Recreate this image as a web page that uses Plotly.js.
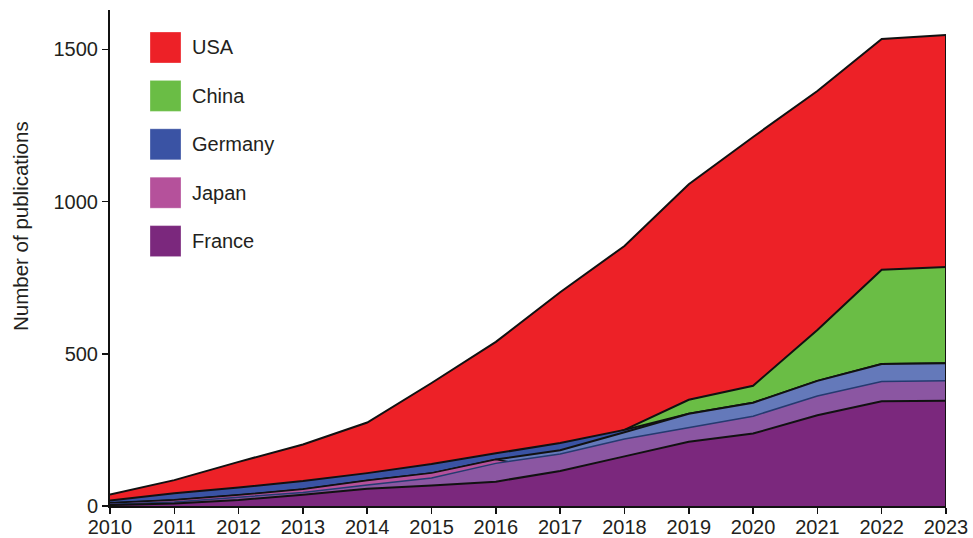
<!DOCTYPE html>
<html>
<head>
<meta charset="utf-8">
<script src="https://cdn.plot.ly/plotly-3.0.1.min.js"></script>
<style>
  html, body { margin: 0; padding: 0; background: #ffffff; }
  #chart { width: 973px; height: 538px; }
</style>
</head>
<body>
<div id="chart"></div>
<script>
// ---- Data (cumulative boundary heights) ----
const years = [2010, 2011, 2012, 2013, 2014, 2015, 2016, 2017, 2018, 2019, 2020, 2021, 2022, 2023];
const yearLabels = ["2010","2011","2012","2013","2014","2015","2016","2017","2018","2019","2020","2021","2022","2023"];
const usaTop        = [38, 85, 145, 202, 274, 404, 539, 702, 854, 1057, 1212, 1363, 1534, 1547];
const chinaTop      = [10, 20, 36, 55, 84, 108, 153, 183, 250, 349, 395, 578, 776, 785];
const germanyTop    = [18, 42, 61, 82, 108, 138, 173, 207, 250, 303, 339, 411, 466, 469];
const germanyLower  = [10, 20, 36, 55, 84, 108, 153, 183, 242, 303, 339, 411, 466, 469];
const japanTop      = [10, 20, 36, 55, 84, 108, 153, 115, 163, 211, 238, 298, 344, 346];
const japanLower    = [6, 13, 29, 44, 69, 92, 140, 171, 220, 258, 295, 361, 409, 411];
const franceTop     = [3, 8, 20, 37, 57, 67, 80, 115, 163, 211, 238, 298, 344, 346];
const legendNames   = ["USA", "China", "Germany", "Japan", "France"];
const yTickVals     = [0, 500, 1000, 1500];
const yTickText     = ["0", "500", "1000", "1500"];
const yTitle        = "Number of publications";

// ---- Colours ----
const cUSA = "#ED2127", cChina = "#6ABD45", cGermany = "#3A53A4", cGermanyLight = "#6479BA";
const cJapan = "#B5519B", cJapanMauve = "#8B56A2", cFrance = "#7B287D";
const legendColors = [cUSA, cChina, cGermany, cJapan, cFrance];
const ink = "#231F20";
const fontFam = "Liberation Sans, Arial, Helvetica, sans-serif";

function area(y, fill, lineColor, lineWidth) {
  return {
    x: years, y: y, type: "scatter", mode: "lines", fill: "tozeroy",
    fillcolor: fill, line: { color: lineColor, width: lineWidth },
    showlegend: false, hoverinfo: "skip"
  };
}

const last = years.length - 1;
const traces = [
  area(usaTop, cUSA, "#111111", 2),
  area(chinaTop, cChina, "#111111", 2),
  area(germanyTop, cGermany, "#111111", 2),
  area(germanyLower, cGermanyLight, "#111111", 2),
  area(japanTop, cJapan, "#111111", 1.5),
  area(japanLower, cJapanMauve, "#253a70", 1.5),
  area(franceTop, cFrance, "#111111", 2),
  { x: [years[last], years[last]], y: [0, usaTop[last]], type: "scatter", mode: "lines",
    line: { color: "#111111", width: 2 }, showlegend: false, hoverinfo: "skip" }
];

// ---- Custom legend (big squares) ----
const plotL = 110, plotR = 946, plotT = 10, plotB = 506;
const pw = plotR - plotL, ph = plotB - plotT;
function px2x(px) { return (px - plotL) / pw; }
function py2y(py) { return (plotB - py) / ph; }
const shapes = [], annotations = [];
legendNames.forEach((name, i) => {
  const top = 32 + i * 48.4;
  shapes.push({
    type: "rect", xref: "paper", yref: "paper",
    x0: px2x(150), x1: px2x(181), y0: py2y(top + 31), y1: py2y(top),
    fillcolor: legendColors[i], line: { color: "rgba(255,255,255,0.6)", width: 0.5 }
  });
  annotations.push({
    xref: "paper", yref: "paper", x: px2x(190), y: py2y(top + 15.5),
    xanchor: "left", yanchor: "middle", showarrow: false, text: name,
    font: { family: fontFam, size: 20, color: ink }
  });
});
// y-axis title
annotations.push({
  xref: "paper", yref: "paper", x: px2x(21), y: py2y(226),
  xanchor: "center", yanchor: "middle", showarrow: false, textangle: -90,
  text: yTitle, font: { family: fontFam, size: 20.5, color: ink }
});

const layout = {
  width: 973, height: 538,
  margin: { l: plotL, r: 973 - plotR, t: plotT, b: 538 - plotB },
  paper_bgcolor: "#ffffff", plot_bgcolor: "#ffffff",
  showlegend: false, hovermode: false,
  font: { family: fontFam, size: 20, color: ink },
  xaxis: {
    range: [2010, 2023], tickmode: "array", tickvals: years, ticktext: yearLabels,
    showgrid: false, zeroline: false, showline: true, linecolor: "#111111", linewidth: 2,
    ticks: "outside", ticklen: 6, tickwidth: 1.5, tickcolor: "#111111",
    ticklabelstandoff: -4,
    tickfont: { size: 20, color: ink }, fixedrange: true
  },
  yaxis: {
    range: [0, 1629], tickmode: "array", tickvals: yTickVals, ticktext: yTickText,
    showgrid: false, zeroline: false, showline: true, linecolor: "#111111", linewidth: 2,
    ticks: "outside", ticklen: 6, tickwidth: 1.5, tickcolor: "#111111",
    tickfont: { size: 20, color: ink }, fixedrange: true
  },
  shapes: shapes,
  annotations: annotations
};

Plotly.newPlot("chart", traces, layout, { displayModeBar: false, staticPlot: true });
</script>
</body>
</html>
